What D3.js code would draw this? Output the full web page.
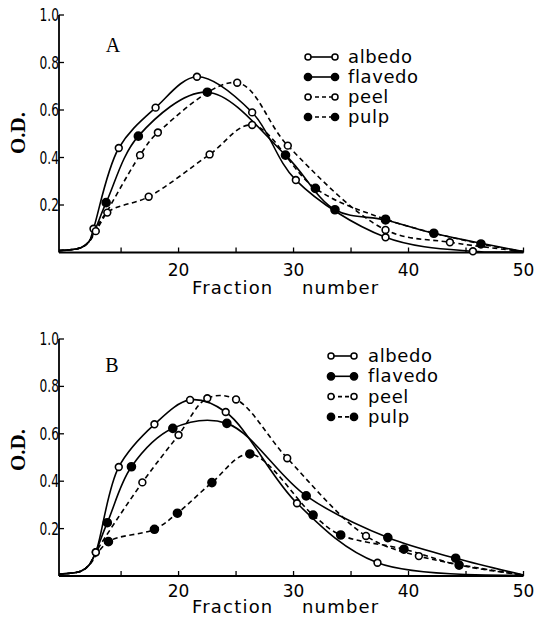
<!DOCTYPE html>
<html>
<head>
<meta charset="utf-8">
<script src="https://cdn.jsdelivr.net/npm/d3@7"></script>
<style>
  body { margin: 0; background: #fff; }
  svg { display: block; }
</style>
</head>
<body>
<svg id="chart" width="534" height="618"></svg>
<script>
// fraction number ticks / O.D. ticks
const fractionTicks = [15, 20, 25, 30, 35, 40, 45, 50];
const fractionLabels = [20, 30, 40, 50];
const odTicks = [0.2, 0.4, 0.6, 0.8, 1.0];
const seriesNames = ["albedo", "flavedo", "peel", "pulp"];

// shared flat start and end of every curve
const baseline = [[9.6, 0.008], [11.5, 0.02], [12.2, 0.045]];
const tail = [[50, 0.004]];

// panel A  [fraction, O.D.]
const albedoA = [[12.6, 0.10], [14.8, 0.44], [18.0, 0.61], [21.6, 0.74], [26.4, 0.59], [30.2, 0.305], [38.0, 0.064], [45.6, 0.005]];
const flavedoA = [[13.7, 0.21], [16.5, 0.49], [22.5, 0.675], [29.3, 0.41], [33.6, 0.18], [38.0, 0.137], [42.2, 0.081]];
const peelA = [[12.8, 0.09], [16.65, 0.41], [18.2, 0.505], [25.1, 0.715], [29.5, 0.45], [38.0, 0.095], [43.6, 0.043]];
const pulpA = [[13.8, 0.168], [17.4, 0.235], [22.7, 0.413], [26.4, 0.537], [31.9, 0.27], [38.0, 0.14], [46.3, 0.036]];
// in A the first pulp points are printed open
const pulpAFilled = [false, false, false, false, true, true, true];

// panel B
const albedoB = [[12.8, 0.10], [14.8, 0.46], [17.9, 0.64], [21.0, 0.743], [24.1, 0.692], [30.3, 0.307], [37.3, 0.056]];
const flavedoB = [[13.8, 0.225], [15.9, 0.461], [19.5, 0.623], [24.2, 0.644], [31.1, 0.338], [38.2, 0.162], [44.1, 0.075]];
const peelB = [[12.8, 0.10], [16.85, 0.395], [20.0, 0.595], [22.5, 0.75], [25.0, 0.745], [29.45, 0.497], [36.3, 0.169], [40.9, 0.084]];
const pulpB = [[13.9, 0.145], [17.9, 0.197], [19.9, 0.265], [22.9, 0.394], [26.2, 0.515], [31.7, 0.257], [34.1, 0.173], [39.6, 0.113], [44.4, 0.046]];

const styles = {
    albedo: { dash: null, filled: false },
    flavedo: { dash: null, filled: true },
    peel: { dash: "5,3.5", filled: false },
    pulp: { dash: "5,3.5", filled: true }
};

const svg = d3.select("#chart");
const x = d3.scaleLinear().domain([9.6, 50]).range([59, 523.5]);
const line = d3.line()
    .x(d => x(d[0]))
    .curve(d3.curveCatmullRom.alpha(0.5));

function drawPanel(cfg) {
    const y = d3.scaleLinear().domain([0, 1]).range([cfg.bottom, cfg.top]);
    const g = svg.append("g");

    // axes lines
    g.append("line").attr("x1", x(9.6)).attr("x2", x(50)).attr("y1", y(0)).attr("y2", y(0))
        .attr("stroke", "#000").attr("stroke-width", 1.8);
    g.append("line").attr("x1", x(9.6)).attr("x2", x(9.6)).attr("y1", y(0)).attr("y2", y(1))
        .attr("stroke", "#000").attr("stroke-width", 1.8);

    g.selectAll(".xt").data(fractionTicks).join("line")
        .attr("x1", d => x(d)).attr("x2", d => x(d))
        .attr("y1", y(0)).attr("y2", y(0) - 5)
        .attr("stroke", "#000").attr("stroke-width", 1.3);
    g.selectAll(".yt").data(odTicks).join("line")
        .attr("x1", x(9.6)).attr("x2", x(9.6) + 5)
        .attr("y1", d => y(d)).attr("y2", d => y(d))
        .attr("stroke", "#000").attr("stroke-width", 1.3);

    g.selectAll(".xl").data(fractionLabels).join("text")
        .attr("x", d => x(d)).attr("y", y(0) + cfg.xLabelDy)
        .attr("text-anchor", "middle")
        .attr("font-family", "DejaVu Sans").attr("font-size", 17)
        .text(d => d);
    // narrow y labels
    g.selectAll(".yl").data(odTicks).join("text")
        .attr("transform", d => `translate(${x(9.6)}, ${y(d) + 6}) scale(0.72, 1)`)
        .attr("text-anchor", "end")
        .attr("font-family", "DejaVu Sans").attr("font-size", 17)
        .text(d => d3.format(".1f")(d));

    g.append("text")
        .attr("x", 192).attr("y", y(0) + cfg.titleDy)
        .attr("font-family", "DejaVu Sans").attr("font-size", 18)
        .attr("letter-spacing", 1.2)
        .text("Fraction");
    g.append("text")
        .attr("x", 302).attr("y", y(0) + cfg.titleDy)
        .attr("font-family", "DejaVu Sans").attr("font-size", 18)
        .attr("letter-spacing", 1.2)
        .text("number");

    g.append("text")
        .attr("transform", `translate(25, ${cfg.odY}) rotate(-90)`)
        .attr("text-anchor", "middle")
        .attr("font-family", "Liberation Serif").attr("font-size", 21)
        .attr("font-weight", "bold")
        .text("O.D.");

    g.append("text")
        .attr("x", cfg.letterX).attr("y", cfg.letterY)
        .attr("text-anchor", "middle")
        .attr("font-family", "Liberation Serif").attr("font-size", 20)
        .text(cfg.letter);

    // curves
    cfg.series.forEach((s, i) => {
        const st = styles[seriesNames[i]];
        g.append("path")
            .attr("d", line.y(d => y(d[1]))(baseline.concat(s.points, tail)))
            .attr("fill", "none").attr("stroke", "#000")
            .attr("stroke-width", 1.6)
            .attr("stroke-dasharray", st.dash);
    });
    cfg.series.forEach((s, i) => {
        const st = styles[seriesNames[i]];
        const isFilled = j => s.filled ? s.filled[j] : st.filled;
        g.selectAll(null).data(s.points).join("circle")
            .attr("cx", d => x(d[0])).attr("cy", d => y(d[1]))
            .attr("r", (d, j) => isFilled(j) ? 4 : 3.4)
            .attr("fill", (d, j) => isFilled(j) ? "#000" : "#fff")
            .attr("stroke", "#000").attr("stroke-width", 1.6);
    });

    // legend
    const lg = g.append("g");
    seriesNames.forEach((name, i) => {
        const st = styles[name];
        const ry = cfg.legend.y + i * cfg.legend.step;
        lg.append("line")
            .attr("x1", cfg.legend.x0).attr("x2", cfg.legend.x1)
            .attr("y1", ry).attr("y2", ry)
            .attr("stroke", "#000").attr("stroke-width", 1.6)
            .attr("stroke-dasharray", st.dash ? "4,3" : null);
        [cfg.legend.x0, cfg.legend.x1].forEach(cx => {
            lg.append("circle").attr("cx", cx).attr("cy", ry)
                .attr("r", st.filled ? 3.6 : 3)
                .attr("fill", st.filled ? "#000" : "#fff")
                .attr("stroke", "#000").attr("stroke-width", 1.5);
        });
        lg.append("text")
            .attr("x", cfg.legend.tx).attr("y", ry + 6)
            .attr("font-family", "DejaVu Sans").attr("font-size", 18)
            .attr("letter-spacing", 0.6)
            .text(name);
    });
}

drawPanel({
    top: 15, bottom: 252.5, letter: "A", letterX: 113, letterY: 52, odY: 133,
    xLabelDy: 23, titleDy: 41,
    legend: { x0: 308, x1: 335, tx: 348, y: 57, step: 20 },
    series: [
        { points: albedoA },
        { points: flavedoA },
        { points: peelA },
        { points: pulpA, filled: pulpAFilled }
    ]
});

drawPanel({
    top: 339, bottom: 576, letter: "B", letterX: 112, letterY: 372, odY: 450,
    xLabelDy: 21, titleDy: 37,
    legend: { x0: 331, x1: 354, tx: 368, y: 356, step: 20.3 },
    series: [
        { points: albedoB },
        { points: flavedoB },
        { points: peelB },
        { points: pulpB }
    ]
});
</script>
</body>
</html>
